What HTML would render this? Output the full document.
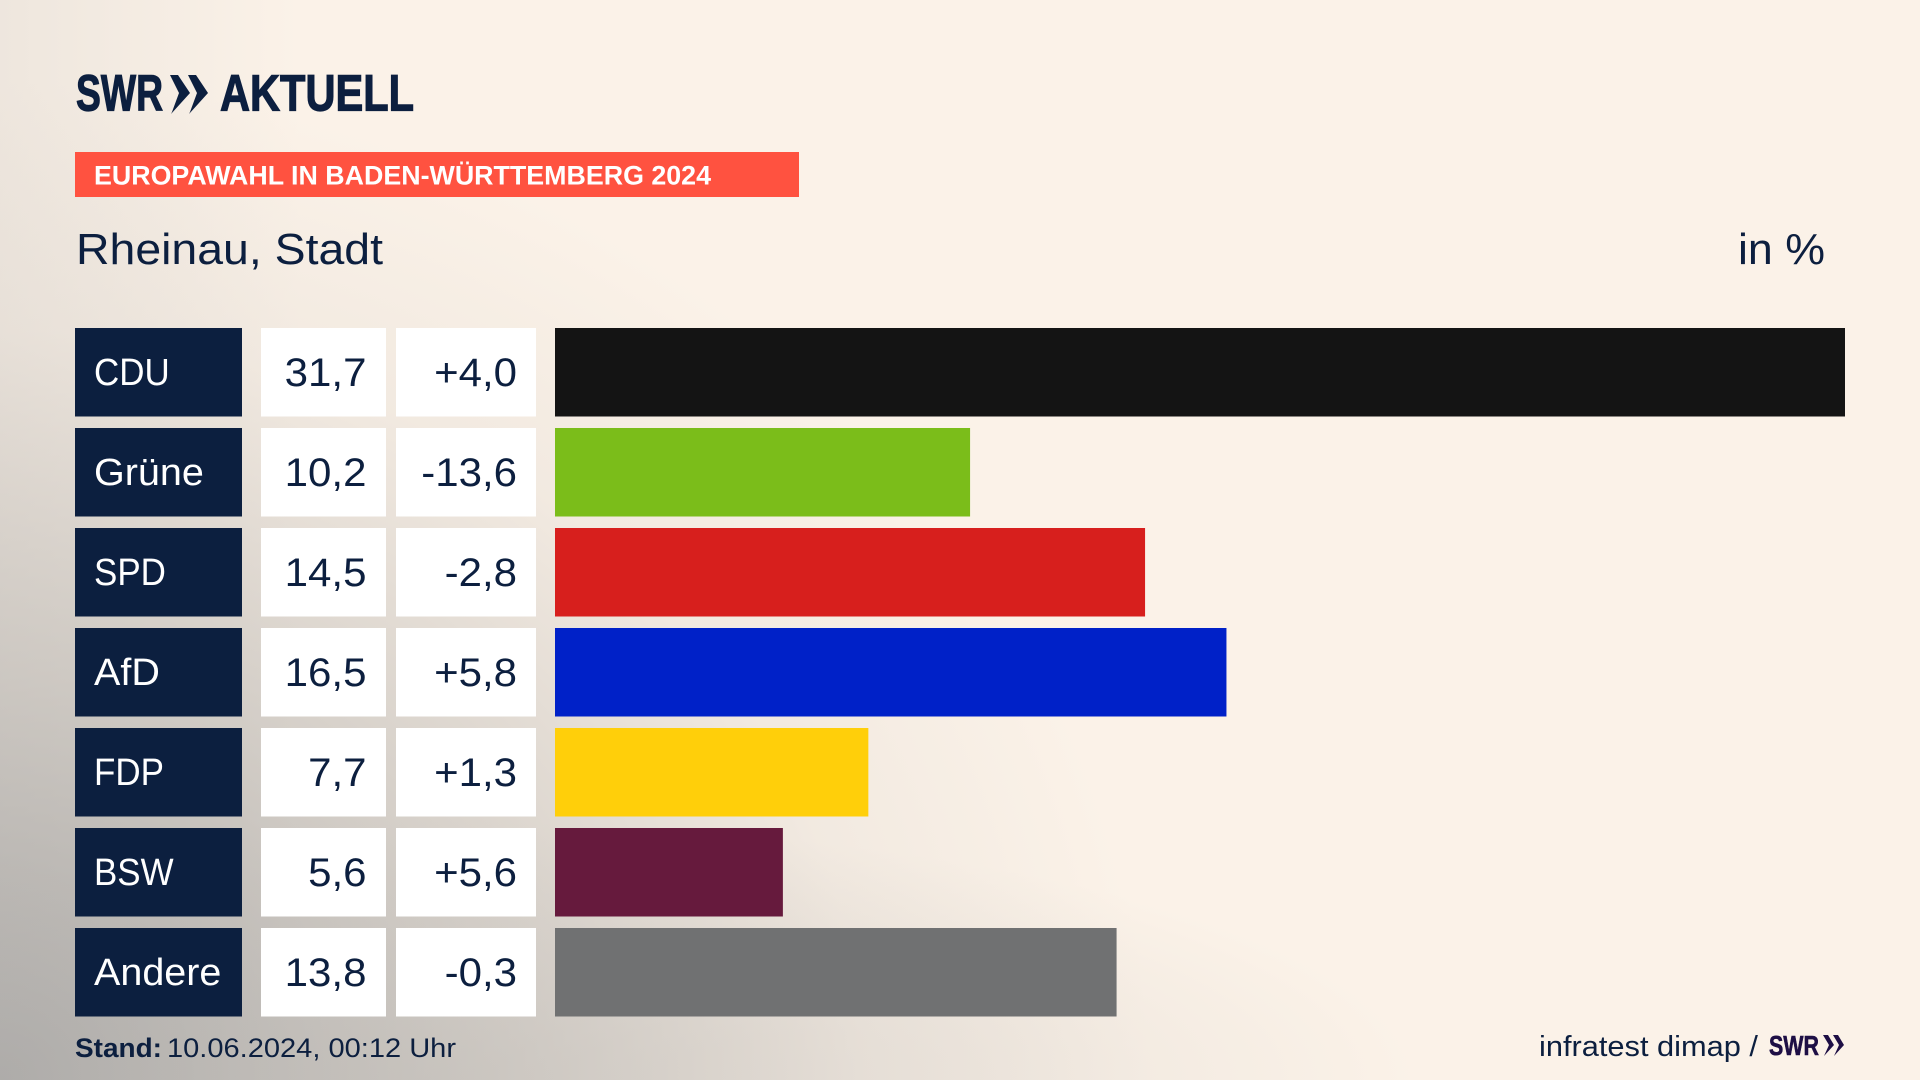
<!DOCTYPE html>
<html lang="de">
<head>
<meta charset="utf-8">
<title>Europawahl in Baden-Württemberg 2024 – Rheinau, Stadt</title>
<style>
  html, body { margin: 0; padding: 0; }
  body {
    width: 1920px; height: 1080px; overflow: hidden; position: relative;
    background:
      radial-gradient(ellipse 1000px 260px at 420px 1080px, rgba(185,182,178,.38) 0%, rgba(190,186,182,.2) 55%, rgba(251,242,232,0) 100%),
      radial-gradient(ellipse 1150px 1000px at 0 1080px, rgba(150,150,150,.78) 0%, rgba(170,168,165,.5) 40%, rgba(200,195,190,.18) 75%, rgba(251,242,232,0) 100%),
      linear-gradient(90deg, rgba(205,200,195,.28) 0, rgba(251,242,232,0) 300px),
      #FBF2E8;
  }
  svg { position: absolute; left: 0; top: 0; display: block; }
  text { font-family: "Liberation Sans", sans-serif; fill: #0C1F3F; }
</style>
</head>
<body>
<svg id="chart" width="1920" height="1080" viewBox="0 0 1920 1080" xmlns="http://www.w3.org/2000/svg">
  <g>
    <text x="76" y="110.5" font-size="51" font-weight="700" textLength="87" lengthAdjust="spacingAndGlyphs" style="stroke:#0C1F3F;stroke-width:1.2">SWR</text>
    <polygon points="170,75 178,75 190,93 171,114 172,112 179,93" fill="#0C1F3F"/>
    <polygon points="188,75 196,75 208,93 189,114 190,112 197,93" fill="#0C1F3F"/>
    <text x="220" y="110.5" font-size="51" font-weight="700" textLength="194" lengthAdjust="spacingAndGlyphs" style="stroke:#0C1F3F;stroke-width:1.2">AKTUELL</text>
  </g>
  <rect x="75" y="152" width="724" height="45" fill="#FF5240"/>
  <text x="94" y="184.5" font-size="27" font-weight="700" textLength="617" lengthAdjust="spacingAndGlyphs" style="fill:#fff">EUROPAWAHL IN BADEN-WÜRTTEMBERG 2024</text>
  <text x="76" y="264" font-size="44" textLength="307" lengthAdjust="spacingAndGlyphs">Rheinau, Stadt</text>
  <text x="1738" y="264" font-size="44" textLength="87" lengthAdjust="spacingAndGlyphs">in %</text>

  <g id="rows"></g>

  <text x="75" y="1057" font-size="27" font-weight="700" textLength="87" lengthAdjust="spacingAndGlyphs">Stand:</text>
  <text x="167" y="1057" font-size="27" textLength="289" lengthAdjust="spacingAndGlyphs">10.06.2024, 00:12 Uhr</text>
  <text x="1539" y="1056" font-size="29" textLength="219" lengthAdjust="spacingAndGlyphs">infratest dimap /</text>
  <g>
    <text x="1769" y="1055" font-size="28" font-weight="700" textLength="50" lengthAdjust="spacingAndGlyphs" style="fill:#1E0F45;stroke:#1E0F45;stroke-width:.6">SWR</text>
    <polygon points="1823,1035 1828,1035 1834,1045 1824,1056 1829,1045" fill="#1E0F45"/>
    <polygon points="1833,1035 1838,1035 1844,1045 1834,1056 1839,1045" fill="#1E0F45"/>
  </g>
</svg>
<script>
const categories = ["CDU", "Grüne", "SPD", "AfD", "FDP", "BSW", "Andere"];
const shares = [31.7, 10.2, 14.5, 16.5, 7.7, 5.6, 13.8];
const changes = [4.0, -13.6, -2.8, 5.8, 1.3, 5.6, -0.3];
const partyColors = {
  "CDU": "#141414", "Grüne": "#7BBD1A", "SPD": "#D71F1D", "AfD": "#0021C8",
  "FDP": "#FFCF0A", "BSW": "#661A3D", "Andere": "#707172"
};

const SVG_NS = "http://www.w3.org/2000/svg";
const layout = {
  top: 328, pitch: 100, rowHeight: 88.5,
  labelX: 75, labelW: 167, valueX: 261, valueW: 125, changeX: 396, changeW: 140,
  barX: 555, barMaxWidth: 1290, barMaxValue: 31.7
};
const rowsGroup = document.getElementById("rows");

function xScale(value) { return value / layout.barMaxValue * layout.barMaxWidth; }
function yScale(index) { return layout.top + index * layout.pitch; }
function formatShare(v) { return v.toFixed(1).replace(".", ","); }
function formatChange(v) { return (v > 0 ? "+" : v < 0 ? "-" : "") + Math.abs(v).toFixed(1).replace(".", ","); }

function makeRect(parent, x, y, w, h, fill) {
  const r = document.createElementNS(SVG_NS, "rect");
  r.setAttribute("x", x);
  r.setAttribute("y", y);
  r.setAttribute("width", w);
  r.setAttribute("height", h);
  r.setAttribute("fill", fill);
  parent.appendChild(r);
  return r;
}
function makeText(parent, x, y, str, anchor) {
  const t = document.createElementNS(SVG_NS, "text");
  t.setAttribute("x", x);
  t.setAttribute("y", y);
  t.setAttribute("font-size", "40");
  t.setAttribute("text-anchor", anchor);
  t.textContent = str;
  parent.appendChild(t);
  return t;
}
function stretchText(t, factor) {
  const measured = t.getComputedTextLength();
  t.setAttribute("textLength", (measured * factor).toFixed(1));
  t.setAttribute("lengthAdjust", "spacingAndGlyphs");
}

categories.forEach(function (name, i) {
  const y = yScale(i);
  const key = name.toLowerCase().replace("ü", "ue");

  const row = document.createElementNS(SVG_NS, "g");
  
  
  rowsGroup.appendChild(row);

  const labelBox = makeRect(row, layout.labelX, y, layout.labelW, layout.rowHeight, "#0C1F3F");
  
  

  const label = makeText(row, 94, y + 57, name, "start");
  label.style.fill = "#fff";
  label.setAttribute("font-size", "38");
  stretchText(label, name === name.toUpperCase() ? 0.92 : 1.04);
  
  

  const shareBox = makeRect(row, layout.valueX, y, layout.valueW, layout.rowHeight, "#fff");
  
  

  const shareText = makeText(row, 366.5, y + 58, formatShare(shares[i]), "end");
  stretchText(shareText, 1.05);
  
  

  const changeBox = makeRect(row, layout.changeX, y, layout.changeW, layout.rowHeight, "#fff");
  
  

  const changeText = makeText(row, 517, y + 58, formatChange(changes[i]), "end");
  stretchText(changeText, 1.05);
  
  

  const bar = makeRect(row, layout.barX, y, xScale(shares[i]), layout.rowHeight, partyColors[name]);
  
  
});
</script>
</body>
</html>
